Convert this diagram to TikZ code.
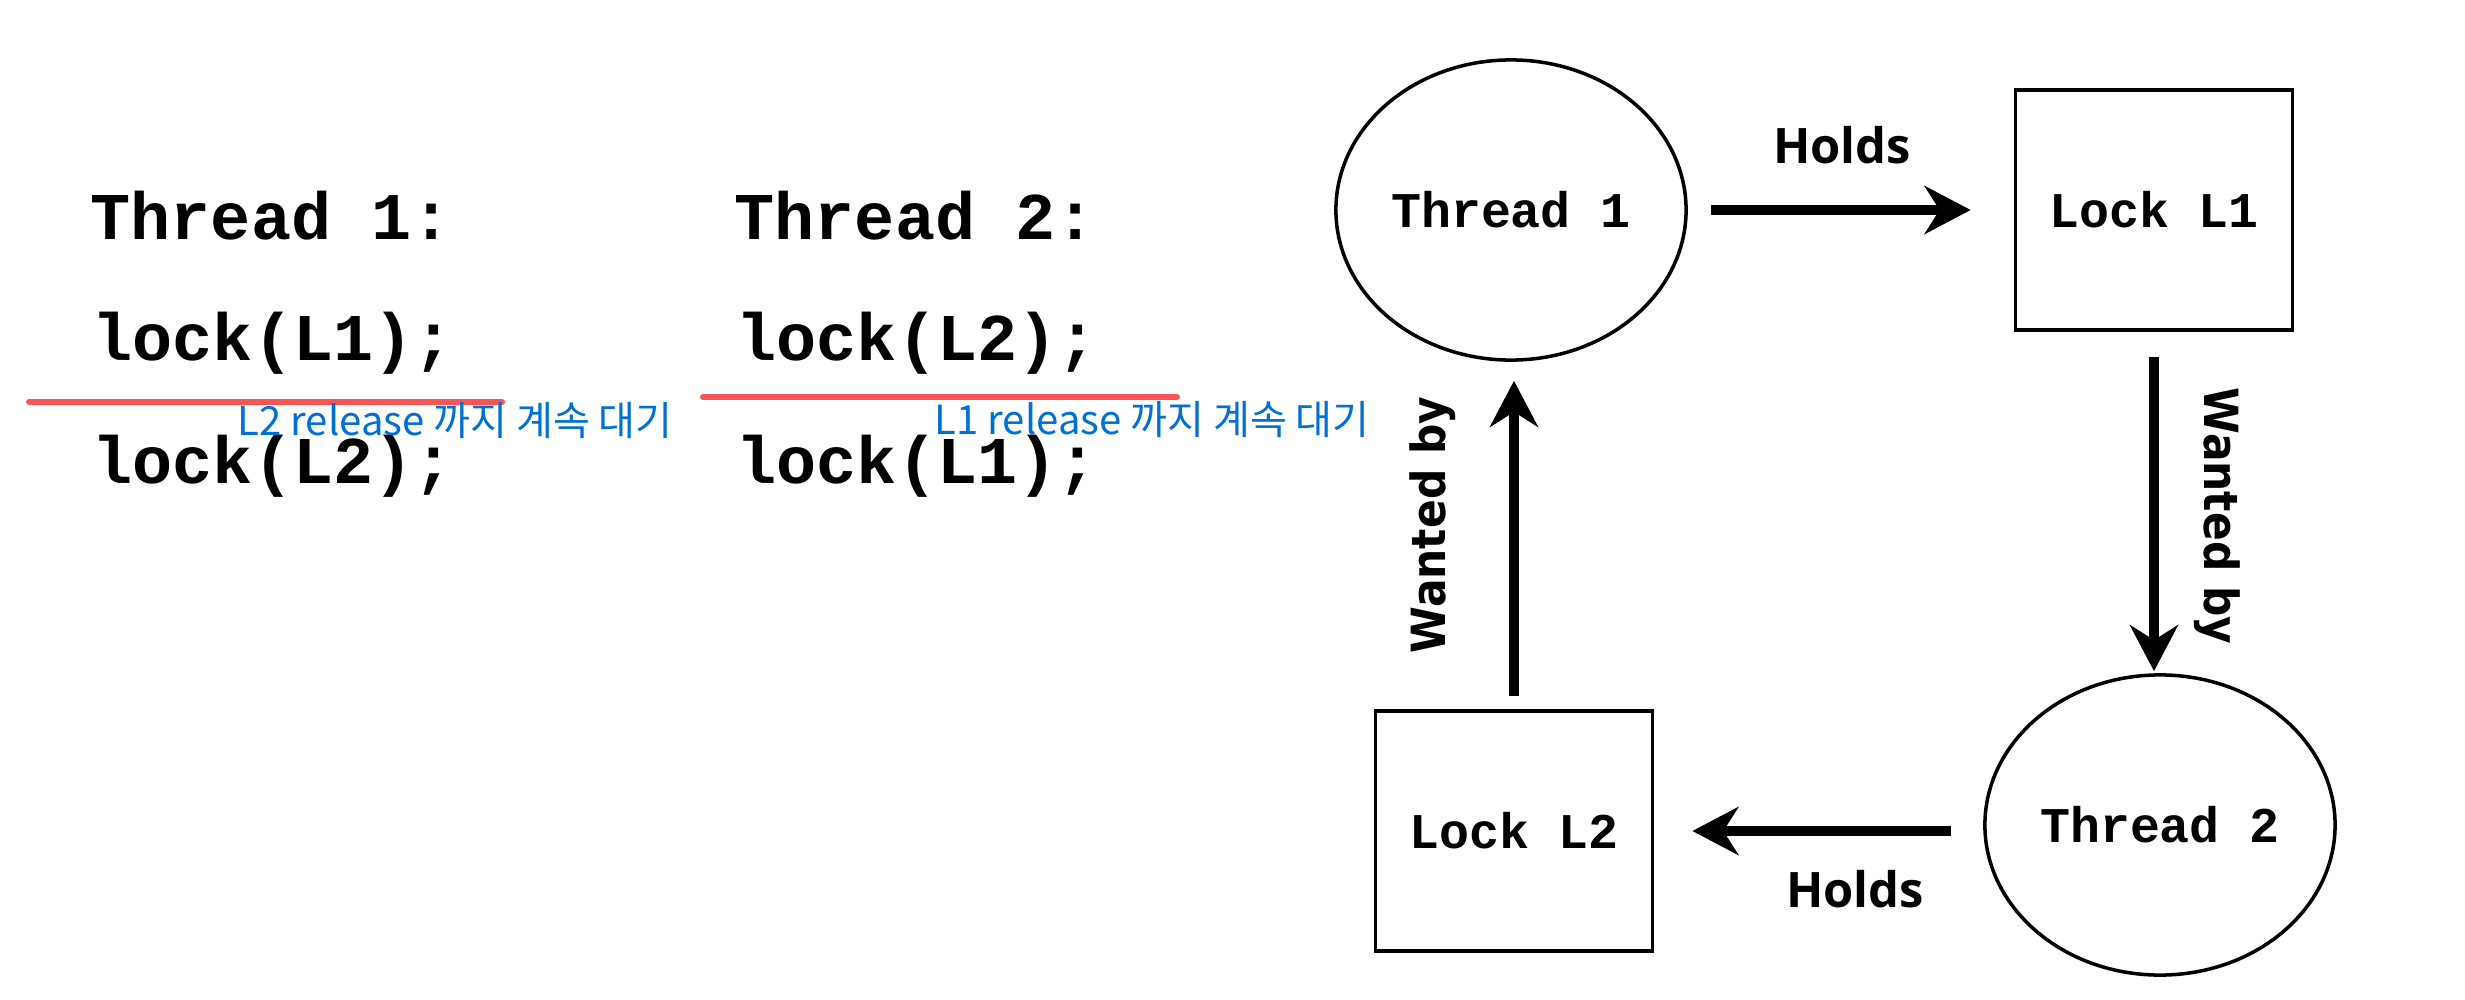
\documentclass[tikz,border=0pt]{standalone}
\usepackage{fontspec}
\setmonofont{Liberation Mono}
\newfontfamily\holdfont{Open Sans}
\newfontfamily\wantfont{DejaVu Sans}[FakeStretch=0.9]
\newfontfamily\notefont{Noto Sans CJK KR}
\usepackage{tikz}
\usetikzlibrary{positioning, shapes.geometric, arrows.meta}
\usepackage{xcolor}
\definecolor{waitred}{RGB}{245,85,85}
\definecolor{waitblue}{RGB}{0,112,210}

\begin{document}
\begin{tikzpicture}[x=0.01cm, y=-0.01cm,
		codeline/.style={anchor=base west, inner sep=0, font=\ttfamily\bfseries\fontsize{19}{23}\selectfont},
		waitline/.style={waitred, line width=1.7pt, line cap=round},
		waitnote/.style={anchor=base west, inner sep=0, text=waitblue, font=\notefont\fontsize{11.4}{13}\selectfont},
		thread/.style={draw, ellipse, line width=1pt, minimum width=3.5cm, minimum height=3cm, inner sep=0, font=\ttfamily\bfseries\fontsize{14.2}{17}\selectfont},
		lockbox/.style={draw, rectangle, line width=1pt, minimum width=2.77cm, minimum height=2.4cm, inner sep=0, font=\ttfamily\bfseries\fontsize{14.2}{17}\selectfont},
		relarrow/.style={line width=2.7pt, -{Stealth[length=0.46cm, width=0.48cm, inset=0.15cm]}},
		holdslabel/.style={anchor=base, inner sep=0, font=\holdfont\bfseries\fontsize{13.9}{16}\selectfont},
		wantlabel/.style={anchor=base, inner sep=0, font=\wantfont\bfseries\fontsize{13.4}{16}\selectfont}]
			\path[fill=white, use as bounding box] (0,0) rectangle (2465,1000);
			% code of both threads
			\node[codeline] (t1head) at (90,239) {Thread 1:};
			\node[codeline] (t1first) at (92,360) {lock(L1);};
			\node[codeline] (t1second) at (92,483) {lock(L2);};
			\node[codeline] (t2head) at (734,239) {Thread 2:};
			\node[codeline] (t2first) at (736,360) {lock(L2);};
			\node[codeline] (t2second) at (736,483) {lock(L1);};
			% waiting marks
			\draw[waitline] (29,402) -- (502,402);
			\node[waitnote] (t1wait) at (237,435) {L2 release 까지 계속 대기};
			\draw[waitline] (703,397) -- (1177,397);
			\node[waitnote] (t2wait) at (934,434) {L1 release 까지 계속 대기};
			% threads and locks
			\node[thread] (thread1) at (1511,210) {Thread 1};
			\node[lockbox] (lock1) at (2154,210) {Lock L1};
			\node[thread] (thread2) at (2160,825) {Thread 2};
			\node[lockbox] (lock2) at (1514,831) {Lock L2};
			% cycle
			\draw[relarrow, shorten <=0.23cm, shorten >=0.43cm] (thread1) -- (lock1);
			\draw[relarrow, shorten <=0.25cm, shorten >=0.02cm] (lock1.south) -- (lock1.south |- thread2.north);
			\draw[relarrow, shorten <=0.32cm, shorten >=0.38cm] (lock2.east -| thread2.west) -- (lock2.east);
			\draw[relarrow, shorten <=0.13cm, shorten >=0.19cm] (lock2.north) -- (lock2.north |- thread1.south);
			\node[holdslabel] (holds1) at (1842,163) {Holds};
			\node[holdslabel] (holds2) at (1855,907) {Holds};
			\node[wantlabel, rotate=-90] (want1) at (2204,516) {Wanted by};
			\node[wantlabel, rotate=90] (want2) at (1445,525) {Wanted by};
		\end{tikzpicture}
\end{document}
